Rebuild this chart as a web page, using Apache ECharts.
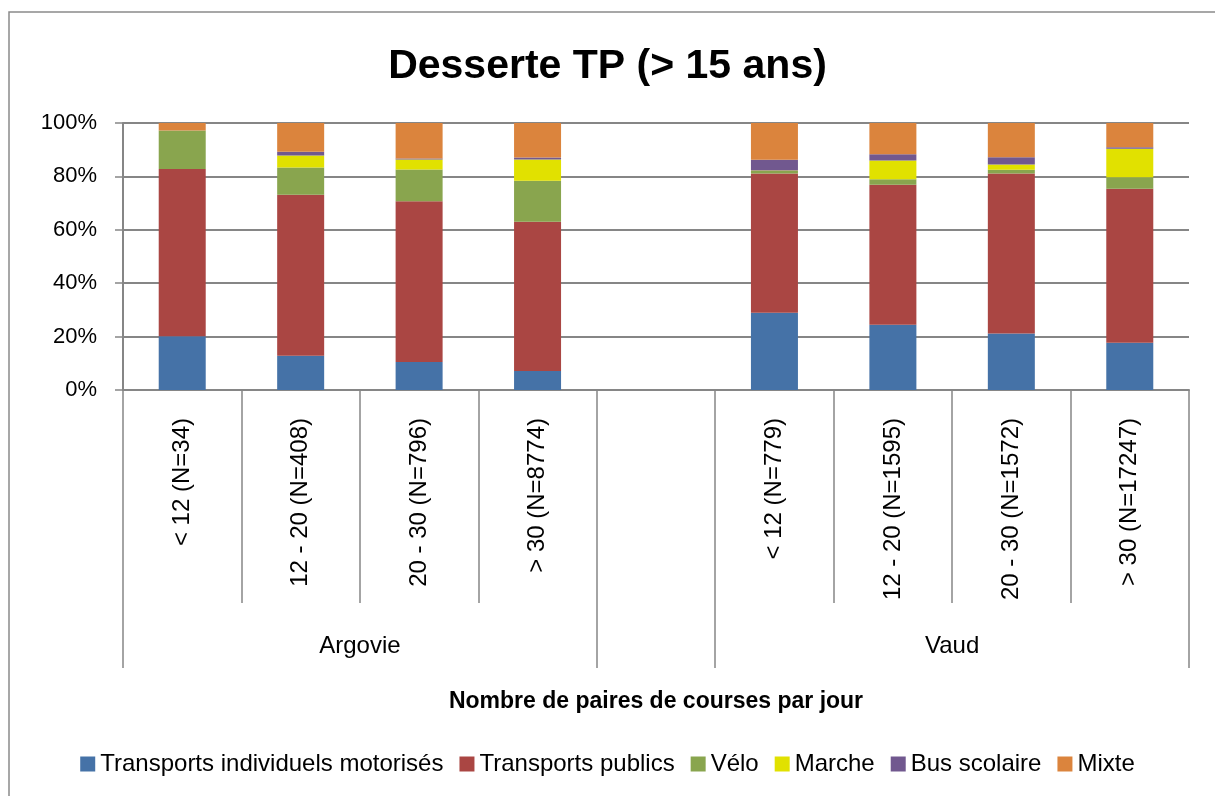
<!DOCTYPE html>
<html>
<head>
<meta charset="utf-8">
<script src="https://cdn.jsdelivr.net/npm/echarts@6/dist/echarts.min.js"></script>
<style>
  html, body { margin: 0; padding: 0; background: #fff; }
  #chart { width: 1215px; height: 796px; }
</style>
</head>
<body>
<div id="chart"></div>
<script>
// categories (index 4 is the empty gap between the two cantons)
var categories = ['< 12 (N=34)', '12 - 20 (N=408)', '20 - 30 (N=796)', '> 30 (N=8774)', '',
                  '< 12 (N=779)', '12 - 20 (N=1595)', '20 - 30 (N=1572)', '> 30 (N=17247)'];
var groups = ['', '', 'Argovie', '', '', '', '', 'Vaud', '', ''];
var groupTicks = [0, 4, 5, 9];
var yTicks = [0, 20, 40, 60, 80, 100];

// shares in %
var tim    = [20.1, 12.8, 10.5, 7.1, null, 28.9, 24.4, 21.2, 17.7];
var tp     = [62.7, 60.3, 60.2, 55.9, null, 52.2, 52.5, 59.9, 57.7];
var velo   = [14.4, 10.2, 11.9, 15.4, null, 0.9, 2.0, 1.4, 4.3];
var marche = [0, 4.5, 3.7, 7.9, null, 0.2, 7.1, 2.0, 10.7];
var bus    = [0, 1.4, 0.4, 0.8, null, 4.0, 2.3, 2.7, 0.5];
var mixte  = [2.8, 10.8, 13.3, 12.9, null, 13.8, 11.7, 12.8, 9.1];

var seriesNames = ['Transports individuels motorisés', 'Transports publics', 'Vélo', 'Marche', 'Bus scolaire', 'Mixte'];
var seriesData = [tim, tp, velo, marche, bus, mixte];
var colors = ['#4572A7', '#AA4643', '#89A54E', '#E1E100', '#71588F', '#DB843D'];

var font = '"Liberation Sans", sans-serif';
var grey = '#868686';

var myChart = echarts.init(document.getElementById('chart'));

var series = [];
for (var i = 0; i < seriesNames.length; i++) {
    series.push({
        name: seriesNames[i],
        type: 'bar',
        stack: 'total',
        barWidth: 47,
        xAxisIndex: 0,
        itemStyle: { color: colors[i] },
        data: seriesData[i]
    });
}

myChart.setOption({
    animation: false,
    textStyle: { fontFamily: font },
    graphic: [{
        type: 'rect',
        shape: { x: 9, y: 12, width: 1400, height: 1000 },
        style: { fill: 'none', stroke: '#8a8a8a', lineWidth: 1.5 },
        silent: true
    }],
    title: {
        text: 'Desserte TP (> 15 ans)',
        left: 'center',
        top: 41,
        textStyle: { fontFamily: font, fontSize: 41, fontWeight: 'bold', color: '#000' }
    },
    legend: {
        bottom: 15,
        left: 'center',
        icon: 'rect',
        itemWidth: 15,
        itemHeight: 15,
        itemGap: 16,
        itemStyle: { borderWidth: 0 },
        textStyle: { fontFamily: font, fontSize: 24, color: '#000' },
        data: seriesNames
    },
    grid: { left: 123, right: 26, top: 123, bottom: 406 },
    xAxis: [{
        type: 'category',
        data: categories,
        axisLine: { lineStyle: { color: grey, width: 2 } },
        axisTick: { show: true, interval: 0, length: 213, lineStyle: { color: grey, width: 1.5 } },
        axisLabel: { interval: 0, rotate: 90, margin: 28, fontSize: 24, color: '#000', fontFamily: font }
    }, {
        type: 'category',
        position: 'bottom',
        boundaryGap: false,
        data: groups,
        axisLine: { show: false },
        axisTick: {
            show: true,
            length: 278,
            interval: function (index) { return groupTicks.indexOf(index) >= 0; },
            lineStyle: { color: grey, width: 1.5 }
        },
        axisLabel: { interval: 0, margin: 244, fontSize: 24, color: '#000', fontFamily: font },
        name: 'Nombre de paires de courses par jour',
        nameLocation: 'middle',
        nameGap: 300,
        nameTextStyle: { fontSize: 23, fontWeight: 'bold', color: '#000', fontFamily: font }
    }],
    yAxis: {
        type: 'value',
        min: yTicks[0],
        max: yTicks[yTicks.length - 1],
        interval: 20,
        axisLine: { show: true, lineStyle: { color: grey, width: 2 } },
        axisTick: { show: true, length: 8, lineStyle: { color: grey, width: 1.5 } },
        axisLabel: { formatter: '{value}%', margin: 26, fontSize: 22, color: '#000', fontFamily: font },
        splitLine: { lineStyle: { color: grey, width: 2 } }
    },
    series: series
});
</script>
</body>
</html>
